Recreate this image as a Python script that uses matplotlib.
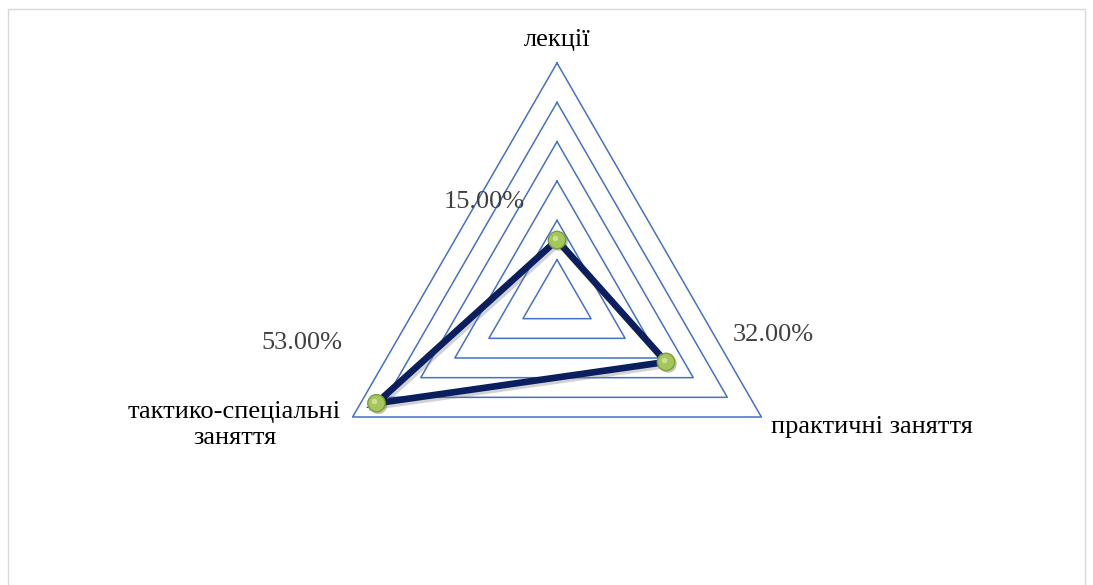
import numpy as np
import matplotlib
matplotlib.use('Agg')
import matplotlib.pyplot as plt
import matplotlib.patheffects as pe
from matplotlib.patches import Rectangle

plt.rcParams['font.family'] = ['Liberation Serif', 'DejaVu Serif']

# Data
categories = ['лекції', 'практичні заняття', 'тактико-спеціальні\nзаняття']
values = [15.0, 32.0, 53.0]
grid_levels = [10, 20, 30, 40, 50, 60]

# angles: top, lower right, lower left (clockwise)
angles = np.deg2rad([90, -30, 210])

fig = plt.figure(figsize=(10.93, 5.85), dpi=100)
scale = 236 / 60.0  # pixels per percent
cx, cy = 557, 585 - 299
ax = fig.add_axes([0, 0, 1, 1])
ax.set_xlim(-cx / scale, (1093 - cx) / scale)
ax.set_ylim(-cy / scale, (585 - cy) / scale)
ax.axis('off')

# triangle gridlines
for lvl in grid_levels:
    gx = lvl * np.cos(angles)
    gy = lvl * np.sin(angles)
    ax.plot(np.append(gx, gx[0]), np.append(gy, gy[0]), color='#4472C4', lw=1.1, zorder=1)

# data line
vals = np.array(values)
dx = vals * np.cos(angles)
dy = vals * np.sin(angles)
ax.plot(np.append(dx, dx[0]), np.append(dy, dy[0]), color='#0B1F5E', lw=4.8,
        solid_joinstyle='miter', zorder=3,
        path_effects=[pe.SimpleLineShadow(offset=(1.5, -2), shadow_color='gray', alpha=0.35),
                      pe.Normal()])
ax.plot(dx, dy, 'o', ms=12.5, mfc='#A5C65A', mec='#7E9C3C', mew=1.0, zorder=4,
        path_effects=[pe.SimplePatchShadow(offset=(1.5, -1.5), alpha=0.3), pe.Normal()])
ax.plot(dx - 0.6, dy + 0.6, 'o', ms=4, mfc='#D4E8A0', mec='none', alpha=0.8, zorder=5)

# value labels
val_offsets = [(-73, 38), (107, 27), (-75, 60)]
for x, y, v, off in zip(dx, dy, values, val_offsets):
    ax.annotate(f'{v:.2f}%', (x, y), xytext=off, textcoords='offset pixels',
                ha='center', va='center', fontsize=19, color='#404040')

# category labels at outer vertex
outer = grid_levels[-1]
cat_offsets = [((0, 23), 'center'), ((10, -10), 'left'), ((-118, -8), 'center')]
for a, name, (off, ha) in zip(angles, categories, cat_offsets):
    ax.annotate(name, (outer * np.cos(a), outer * np.sin(a)), xytext=off,
                textcoords='offset pixels', ha=ha, va='center', fontsize=19,
                color='black', linespacing=1.2)

# chart border
fig.patches.append(Rectangle((8 / 1093, -0.05), (1085 - 8) / 1093, 1.05 - 9 / 585,
                             transform=fig.transFigure, fill=False,
                             edgecolor='#D9D9D9', lw=1.0))

fig.savefig('out.png', dpi=100, facecolor='white')
